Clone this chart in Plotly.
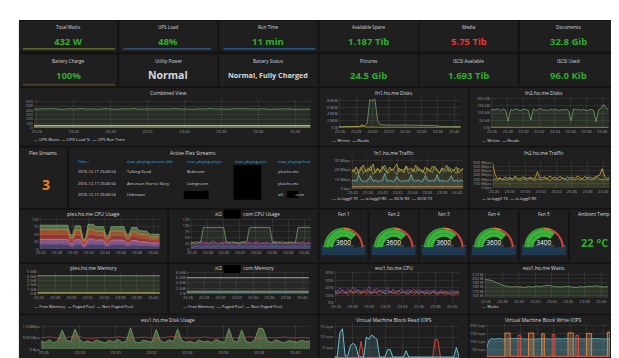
import plotly.graph_objects as go
import pandas as pd

# ---------------- data ----------------
stat_titles_row1 = ["Total Watts", "UPS Load", "Run Time", "Available Space", "Media", "Documents"]
stat_values_row1 = ["432 W", "48%", "11 min", "1.187 Tib", "5.75 Tib", "32.8 Gib"]
stat_kinds_row1 = ["good", "good", "good", "good", "bad", "good"]
stat_titles_row2 = ["Battery Charge", "Utility Power", "Battery Status", "Pictures", "iSCSI Available", "iSCSI Used"]
stat_values_row2 = ["100%", "Normal", "Normal, Fully Charged", "24.5 Gib", "1.693 Tib", "96.0 Kib"]
stat_kinds_row2 = ["good", "text", "text_small", "good", "good", "good"]

spark_total_watts = [430, 436, 428, 441, 433, 425, 438, 430, 444, 429, 435, 431]
spark_ups_load = [48, 48, 49, 48, 47, 48, 48, 49, 48, 48, 47, 48]
spark_run_time = [11, 11, 11, 11, 11, 11, 11, 11, 11, 11, 11, 11]
spark_battery = [100, 100, 100, 100, 100, 100, 100, 100, 100, 100, 100, 100]

ups_watts = [430, 436, 428, 441, 433, 425, 438, 430, 444, 429, 435, 427, 440, 432, 426, 437,
             431, 445, 428, 434, 430, 439, 426, 433, 441, 429, 436, 424, 438, 431, 447, 430,
             435, 428, 440, 433, 427, 436, 431, 439, 425, 434, 430, 437, 428, 433, 440, 431]
ups_load = [48, 48, 49, 48, 47, 48, 48, 49, 48, 48, 47, 48, 48, 49, 48, 48,
            48, 47, 48, 49, 48, 48, 48, 47, 48, 48, 49, 48, 48, 47, 48, 48]
ups_runtime = [11, 11, 11, 11, 11, 11, 11, 11, 11, 11, 11, 11, 11, 11, 11, 11,
               11, 11, 11, 11, 11, 11, 11, 11, 11, 11, 11, 11, 11, 11, 11, 11]

vs1_writes = [0.3, 0.3, 0.4, 0.3, 0.3, 0.5, 0.4, 0.3, 0.4, 0.3, 0.6, 1.2, 8.2, 7.9, 8.4, 2.1,
              0.9, 0.8, 0.8, 0.7, 0.8, 0.7, 0.8, 0.7, 0.8, 0.8, 0.7, 0.8, 0.7, 0.8, 0.7, 0.7,
              0.8, 0.7, 0.8, 0.7, 0.8, 0.6, 0.5, 0.3, 0.3, 0.4, 0.3, 0.3, 0.4, 0.3, 0.3, 0.3]
vs1_reads = [0.1, 0.1, 0.2, 0.1, 0.1, 0.1, 0.2, 0.1, 0.3, 0.9, 0.3, 0.1, 0.2, 0.3, 0.2, 0.1,
             0.1, 0.2, 0.1, 0.1, 0.1, 0.2, 0.1, 0.1, 0.1, 0.1, 0.2, 0.1, 0.1, 0.1, 0.1, 0.2,
             0.1, 0.1, 0.1, 0.1, 0.1, 0.2, 0.1, 0.1, 0.1, 0.1, 0.2, 0.1, 0.1, 0.1, 0.1, 0.1]
vs2_writes = [118, 125, 122, 130, 115, 127, 120, 45, 124, 119, 128, 121, 117, 126, 123, 120,
              50, 129, 116, 124, 131, 119, 122, 118, 127, 121, 125, 117, 123, 120, 126, 118,
              48, 129, 122, 124, 119, 127, 116, 121, 125, 118, 40, 123, 135, 158, 130, 126]
vs2_reads = [3, 2, 3, 2, 2, 3, 2, 2, 3, 2, 3, 2, 2, 3, 2, 2, 3, 2, 2, 3, 2, 2, 3, 2, 3, 2, 2, 3, 2, 2, 3, 2]

vs1_lagg_tx = [17, 21, 15, 19, 23, 16, 20, 18, 24, 15, 19, 22, 17, 20, 25, 16, 18, 21, 19, 15,
               22, 18, 20, 24, 16, 19, 21, 17, 23, 18, 20, 15, 22, 19, 17, 24, 20, 16, 21, 18,
               19, 23, 17, 20, 16, 22, 19, 21]
vs1_lagg_rx = [20, 18, 23, 16, 21, 25, 18, 22, 19, 26, 17, 21, 18, 24, 20, 17, 23, 19, 22, 26,
               18, 21, 17, 24, 20, 22, 18, 25, 19, 21, 17, 23, 20, 18, 24, 21, 19, 17, 22, 20,
               25, 18, 21, 19, 23, 17, 20, 22]
vs1_iscsi_rx = [8, 9, 8, 15, 9, 8, 8, 9, 14, 8, 9, 8, 8, 9, 16, 8, 9, 8, 8, 13, 9, 8, 8, 9,
                8, 15, 9, 8, 9, 8, 8, 14, 9, 8, 9, 8, 15, 8, 9, 8, 8, 9, 14, 8, 9, 8, 9, 8]
vs1_iscsi_tx = [2.4, 2.5, 2.4, 2.6, 2.5, 2.4, 2.5, 2.5, 2.4, 2.6, 2.5, 2.4, 2.5, 2.4, 2.5, 2.6,
                2.4, 2.5, 2.5, 2.4, 2.5, 2.6, 2.4, 2.5, 2.4, 2.5, 2.5, 2.4, 2.6, 2.5, 2.4, 2.5]

vs2_lagg_tx = [180, 210, 170, 230, 190, 200, 175, 220, 185, 240, 195, 170, 205, 215, 180, 230,
               190, 175, 210, 200, 185, 225, 195, 170, 215, 190, 205, 180, 235, 195, 175, 210,
               200, 185, 220, 190, 205, 175, 230, 195, 185, 210, 250, 200, 190, 215, 180, 205]
vs2_lagg_rx = [560, 320, 210, 240, 190, 260, 220, 250, 200, 280, 230, 210, 260, 240, 220, 250,
               230, 210, 380, 230, 240, 260, 210, 280, 230, 250, 220, 270, 240, 210, 260, 230,
               250, 220, 280, 240, 210, 270, 230, 260, 220, 250, 270, 300, 450, 270, 220, 250]

table_headers = ["Time ↓", "now_playing.stream_title", "now_playing.player", "now_playing.user", "now_playing.host"]
table_time = ["2016-12-17 23:40:54", "2016-12-17 23:40:54", "2016-12-17 23:40:54"]
table_title = ["Talking Dead", "American Horror Story", "Unknown"]
table_player = ["Bedroom", "Livingroom", ""]
table_user = ["", "", ""]
table_host = ["plex.ho.me", "plex.ho.me", "xl2\u00a0\u00a0\u00a0\u00a0\u00a0\u00a0\u00a0\u00a0\u00a0\u00a0\u00a0.com"]
plex_streams = "3"

plex_cpu_1 = [17, 16, 17, 18, 16, 17, 16, 18, 17, 16, 17, 16, 10, 9, 16, 17, 16, 7, 8, 17,
              18, 17, 15, 16, 15, 16, 9, 10, 15, 16, 15, 16, 15, 16, 10, 11, 15, 14, 15, 13,
              12, 13, 12, 11, 10, 11, 10, 10]
plex_cpu_2 = [16, 17, 16, 15, 17, 16, 17, 16, 15, 17, 16, 17, 10, 10, 16, 15, 16, 7, 7, 16,
              17, 16, 15, 15, 16, 15, 9, 9, 15, 15, 16, 15, 15, 14, 10, 10, 14, 15, 14, 12,
              13, 12, 12, 10, 10, 10, 11, 10]
plex_cpu_3 = [16, 15, 17, 16, 16, 15, 16, 17, 16, 15, 16, 16, 9, 10, 15, 16, 16, 7, 7, 17,
              16, 17, 15, 15, 15, 14, 9, 9, 15, 15, 14, 15, 16, 15, 10, 10, 15, 14, 14, 12,
              12, 13, 12, 10, 10, 10, 10, 10]
plex_cpu_4 = [16, 16, 15, 16, 17, 16, 15, 16, 16, 17, 15, 16, 10, 9, 16, 15, 15, 7, 7, 16,
              16, 17, 15, 15, 14, 15, 9, 9, 15, 15, 15, 15, 14, 15, 10, 9, 14, 15, 14, 13,
              12, 12, 12, 10, 10, 10, 10, 10]
plex_cpu_5 = [15, 16, 15, 16, 15, 16, 17, 15, 16, 15, 16, 15, 9, 10, 15, 16, 15, 7, 6, 17,
              16, 16, 15, 14, 15, 15, 9, 8, 15, 14, 15, 15, 15, 15, 10, 10, 14, 14, 15, 12,
              13, 12, 12, 9, 10, 9, 9, 10]

xl2_cpu_green = [30, 28, 32, 29, 31, 92, 93, 92, 94, 93, 92, 93, 94, 92, 31, 28, 33, 29, 30, 27,
                 31, 29, 32, 91, 93, 92, 94, 92, 93, 91, 92, 93, 30, 28, 31, 29, 32, 27, 30, 28,
                 31, 29, 92, 93, 94, 92, 93, 92]
xl2_cpu_purple = [25, 30, 22, 28, 34, 26, 31, 24, 29, 35, 27, 23, 30, 26, 33, 28, 24, 31, 27, 22,
                  29, 34, 26, 30, 25, 28, 33, 24, 29, 27, 31, 23, 28, 35, 26, 30, 24, 29, 27, 32,
                  25, 28, 30, 26, 33, 24, 29, 27]
xl2_cpu_blue = [12, 9, 11, 14, 10, 8, 13, 11, 9, 12, 10, 15, 11, 9, 12, 10, 13, 8, 11, 14,
                10, 12, 9, 11, 13, 10, 8, 12, 11, 14, 9, 12, 10, 11, 13, 9, 12, 10, 8, 11,
                14, 10, 12, 9, 11, 13, 10, 12]

fan_names = ["Fan 1", "Fan 2", "Fan 3", "Fan 4", "Fan 5"]
fan_rpm = [3600, 3600, 3600, 3600, 3400]
fan_max = 4800
fan_thresholds = [(0, 2400, "#3aa13a"), (2400, 3000, "#e5832f"), (3000, 4800, "#c9463d")]
fan_sparks = [[3600, 3600, 3600, 3600, 3600, 3600, 3600, 3600, 3600, 3600, 3600, 3600],
              [3600, 3600, 3600, 3600, 3600, 3600, 3600, 3600, 3600, 3600, 3600, 3600],
              [3600, 3600, 3600, 3600, 3600, 3600, 3600, 3600, 3600, 3600, 3600, 3600],
              [3600, 3600, 3600, 3600, 3600, 3600, 3600, 3600, 3600, 3600, 3600, 3600],
              [3400, 3400, 3400, 3400, 3400, 3400, 3400, 3400, 3400, 3400, 3400, 3400]]
ambient_temp = "22 °C"

plex_mem_free = [4.15, 4.16, 4.14, 4.15, 4.17, 4.16, 4.15, 4.13, 4.14, 4.16, 4.15, 4.15, 4.14, 4.12, 4.13, 4.15,
                 4.16, 4.14, 4.15, 4.13, 4.16, 4.15, 4.14, 4.16, 4.15, 4.13, 4.14, 4.16, 4.15, 4.14, 4.16, 4.15]
plex_mem_paged = [0.25, 0.25, 0.26, 0.25, 0.25, 0.25, 0.26, 0.25, 0.25, 0.26, 0.25, 0.25, 0.25, 0.26, 0.25, 0.25,
                  0.25, 0.26, 0.25, 0.25, 0.26, 0.25, 0.25, 0.25, 0.26, 0.25, 0.25, 0.25, 0.26, 0.25, 0.25, 0.25]
plex_mem_nonpaged = [0.12, 0.12, 0.12, 0.13, 0.12, 0.12, 0.12, 0.12, 0.13, 0.12, 0.12, 0.12, 0.12, 0.12, 0.13, 0.12,
                     0.12, 0.12, 0.12, 0.13, 0.12, 0.12, 0.12, 0.12, 0.12, 0.13, 0.12, 0.12, 0.12, 0.12, 0.13, 0.12]
xl2_mem_free = [5.92, 5.91, 5.92, 5.93, 5.92, 5.91, 5.92, 5.92, 5.93, 5.92, 5.91, 5.92, 5.92, 5.91, 5.93, 5.92,
                5.92, 5.91, 5.92, 5.93, 5.92, 5.91, 5.92, 5.92, 5.91, 5.93, 5.92, 5.92, 5.91, 5.92, 5.92, 5.93]
xl2_mem_paged = [0.92, 0.92, 0.93, 0.92, 0.92, 0.92, 0.93, 0.92, 0.92, 0.92, 0.93, 0.92, 0.92, 0.92, 0.92, 0.93,
                 0.92, 0.92, 0.92, 0.93, 0.92, 0.92, 0.92, 0.92, 0.93, 0.92, 0.92, 0.92, 0.92, 0.93, 0.92, 0.92]
xl2_mem_nonpaged = [0.35, 0.35, 0.35, 0.36, 0.35, 0.35, 0.35, 0.35, 0.36, 0.35, 0.35, 0.35, 0.35, 0.35, 0.36, 0.35,
                    0.35, 0.35, 0.35, 0.36, 0.35, 0.35, 0.35, 0.35, 0.35, 0.36, 0.35, 0.35, 0.35, 0.35, 0.36, 0.35]

esx_cpu_a = [35, 28, 40, 32, 26, 38, 30, 42, 27, 34, 29, 37, 31, 44, 26, 33, 39, 28, 35, 30,
             41, 27, 36, 32, 29, 38, 33, 26, 35, 30, 37, 28, 34, 31, 27, 36, 29, 33, 30, 26,
             34, 28, 32, 29, 35, 27, 31, 30]
esx_cpu_b = [28, 33, 25, 36, 30, 27, 34, 29, 38, 26, 32, 28, 35, 30, 27, 37, 29, 33, 26, 34,
             31, 28, 36, 27, 33, 30, 25, 34, 29, 32, 27, 35, 30, 26, 33, 28, 31, 27, 34, 29,
             26, 32, 28, 30, 27, 33, 29, 28]
esx_cpu_c = [22, 26, 30, 24, 28, 21, 27, 25, 31, 23, 26, 29, 22, 27, 24, 30, 25, 21, 28, 26,
             23, 29, 24, 27, 22, 26, 30, 23, 25, 28, 21, 27, 24, 29, 22, 26, 23, 28, 25, 21,
             27, 24, 22, 26, 23, 20, 25, 22]
esx_cpu_d = [30, 24, 27, 33, 25, 29, 31, 26, 28, 35, 24, 30, 27, 32, 25, 29, 26, 34, 28, 24,
             31, 27, 29, 25, 33, 26, 30, 28, 24, 32, 27, 29, 25, 31, 26, 28, 24, 30, 27, 25,
             29, 26, 28, 24, 27, 25, 28, 26]
esx_watts = [198, 197, 195, 190, 186, 183, 181, 180, 181, 180, 179, 181, 180, 182, 181, 183,
             184, 182, 181, 180, 181, 182, 180, 179, 181, 180, 182, 181, 183, 181, 180, 181]

disk_read = [0.35, 0.3, 0.42, 0.28, 0.38, 0.85, 0.4, 0.33, 0.9, 0.45, 0.3, 0.37, 0.29, 0.41, 0.34, 0.27,
             0.39, 0.32, 0.44, 0.3, 0.36, 0.95, 0.33, 0.28, 0.4, 0.35, 0.31, 0.88, 0.37, 0.29, 0.42, 0.33,
             0.9, 0.38, 0.3, 0.35, 0.27, 0.41, 0.32, 0.36, 0.29, 0.43, 0.34, 0.3, 0.92, 0.37, 0.31, 0.86,
             0.35, 0.28, 0.4, 0.94, 0.9, 0.36, 0.3, 0.42, 0.33, 0.29, 0.38, 0.35, 0.31, 0.4, 0.34, 0.37]
disk_write = [0.5, 0.55, 0.48, 0.52, 0.6, 0.5, 0.47, 0.53, 0.5, 0.56, 0.49, 0.51, 0.54, 0.48, 0.5, 0.57,
              0.52, 0.49, 0.5, 0.55, 0.47, 0.53, 0.5, 0.51, 0.56, 0.48, 0.52, 0.5, 0.54, 0.49, 0.51, 0.5]

vm_read_a = [0.5, 0.5, 12, 14, 1, 1, 6, 7, 6, 1, 0.5, 0.5, 10, 9, 11, 10, 9, 0.5, 0.5, 0.5,
             4, 4, 0.5, 0.5, 0.5, 0.5, 0.5, 3.5, 0.5, 0.5, 0.5, 0.5, 0.5, 0.5, 0.5, 0.5, 0.5, 0.5,
             0.5, 0.5, 0.5, 0.5, 0.5, 0.5, 0.5, 0.5, 5, 0.5]
vm_read_b = [0.2, 0.2, 0.2, 0.2, 0.2, 0.2, 0.2, 0.2, 0.2, 0.2, 8, 0.2, 0.2, 0.2, 0.2, 0.2,
             0.2, 0.2, 0.2, 0.2, 0.2, 0.2, 0.2, 0.2, 0.2, 0.2, 0.2, 0.2, 0.2, 0.2, 0.2, 0.2,
             0.2, 0.2, 0.2, 0.2, 0.2, 0.2, 9, 8.5, 0.2, 0.2, 0.2, 0.2, 0.2, 0.2, 0.2, 0.2]
vm_read_c = [0.3, 0.3, 0.3, 0.3, 0.3, 0.3, 0.3, 0.3, 0.3, 0.3, 0.3, 0.3, 0.3, 0.3, 0.3, 0.3,
             0.3, 0.3, 0.3, 0.3, 0.3, 0.3, 0.3, 0.3, 0.3, 0.3, 0.3, 0.3, 0.3, 0.3, 0.3, 0.3]
vm_write_a = [60, 110, 119, 116, 118, 120, 117, 115, 118, 119, 116, 117, 118, 120, 117, 116,
              119, 118, 115, 117, 118, 119, 116, 118, 117, 115, 119, 118, 116, 117, 120, 118,
              116, 117, 119, 118, 115, 117, 118, 116, 119, 117, 118, 120, 116, 117, 118, 119]
vm_write_b = [2, 2, 2, 2, 2, 2, 2, 155, 155, 2, 2, 2, 2, 2, 2, 2, 155, 155, 2, 2, 2, 150, 2, 2,
              2, 2, 2, 2, 2, 2, 2, 155, 155, 2, 2, 2, 2, 2, 152, 152, 2, 2, 2, 2, 2, 2, 160, 2]
vm_write_c = [1, 1, 1, 1, 1, 1, 1, 1, 1, 1, 1, 1, 140, 1, 1, 1, 1, 1, 1, 1, 1, 1, 1, 1,
              1, 145, 1, 1, 1, 1, 1, 1, 1, 1, 140, 1, 1, 1, 1, 1, 1, 1, 1, 1, 1, 1, 1, 1]

T0, T1 = "2016-12-17 23:25:50", "2016-12-17 23:40:50"
TIME_TICKS = pd.date_range("2016-12-17 23:26", "2016-12-17 23:40", freq="2min")

# ---------------- style ----------------
W, H = 619, 358
BG = "#141414"
PANEL = "#1f1f20"
TXT = "#d8d9da"
TICK = "#9a9a9a"
GRID = "rgba(255,255,255,0.07)"
FONT = "Open Sans"
V_GREEN = "#32ac2d"
V_RED = "#e5383b"
V_ORANGE = "#ed8128"
G, Y, LB, O, R, B, P, PU = "#7eb26d", "#eab839", "#6ed0e0", "#ef843c", "#e24d42", "#1f78c1", "#ba43a9", "#705da0"
GAUGE_G = "#3bb33b"


def rgba(h, a):
    h = h.lstrip('#')
    return "rgba(%d,%d,%d,%.2f)" % (int(h[0:2], 16), int(h[2:4], 16), int(h[4:6], 16), a)


U = (610 - 7 + 2) / 12.0


def col(c0, span):
    return 7 + c0 * U, 7 + (c0 + span) * U - 2


def times(n):
    return pd.date_range(T0, T1, periods=n)


fig = go.Figure()
layout_axes = {}
shapes = []
anns = []
axis_count = [0]


def rect(x0, y0, x1, y1, color, layer='below'):
    shapes.append(dict(type='rect', xref='paper', yref='paper', x0=x0 / W, x1=x1 / W,
                       y0=1 - y1 / H, y1=1 - y0 / H, fillcolor=color, line=dict(width=0), layer=layer))


def ann(x, y, text, size=5, color=TXT, xanchor='center', bold=False):
    anns.append(dict(x=x / W, y=1 - y / H, xref='paper', yref='paper',
                     text=('<b>%s</b>' % text) if bold else text, showarrow=False,
                     xanchor=xanchor, yanchor='middle', borderpad=0,
                     font=dict(size=size, color=color, family=FONT)))


def new_axes(x0, x1, ytop, ybot, xkw, ykw):
    axis_count[0] += 1
    n = axis_count[0]
    sx = '' if n == 1 else str(n)
    layout_axes['xaxis' + sx] = dict(domain=[x0 / W, x1 / W], anchor='y' + sx, **xkw)
    layout_axes['yaxis' + sx] = dict(domain=[1 - ybot / H, 1 - ytop / H], anchor='x' + sx, **ykw)
    return 'x' + sx, 'y' + sx


def graph(p26, p40, ytop, ybot, yrange, tickvals, ticktext, showx=True):
    s = (p40 - p26) / 14.0
    xl = p26 - s / 6.0
    xr = p40 + s * 5.0 / 6.0
    xkw = dict(type='date', range=[T0, T1], tickvals=TIME_TICKS, tickformat='%H:%M',
               showticklabels=showx, tickfont=dict(size=4, color=TICK, family=FONT),
               showgrid=True, gridcolor=GRID, gridwidth=0.5, zeroline=False, showline=False,
               ticks='', fixedrange=True)
    ykw = dict(range=yrange, tickvals=tickvals, ticktext=ticktext,
               tickfont=dict(size=4, color=TICK, family=FONT), showgrid=True, gridcolor=GRID,
               gridwidth=0.5, zeroline=False, showline=False, ticks='', fixedrange=True)
    return new_axes(xl, xr, ytop, ybot, xkw, ykw)


def line(axes, vals, color, fill_alpha=None, width=0.7, shape='linear', stack=None):
    xa, ya = axes
    kw = dict(x=times(len(vals)), y=vals, xaxis=xa, yaxis=ya, mode='lines',
              line=dict(color=color, width=width, shape=shape), hoverinfo='skip', showlegend=False)
    if stack:
        kw['stackgroup'] = stack
        kw['fillcolor'] = rgba(color, fill_alpha)
    elif fill_alpha is not None:
        kw['fill'] = 'tozeroy'
        kw['fillcolor'] = rgba(color, fill_alpha)
    fig.add_trace(go.Scatter(**kw))


def spark(x0, x1, ytop, ybot, vals, color, alpha):
    xkw = dict(type='date', range=[T0, T1], visible=False, fixedrange=True)
    ykw = dict(range=[0, max(vals) * 1.02], visible=False, fixedrange=True)
    xa, ya = new_axes(x0, x1, ytop, ybot, xkw, ykw)
    fig.add_trace(go.Scatter(x=times(len(vals)), y=vals, xaxis=xa, yaxis=ya, mode='lines',
                             line=dict(color=color, width=0.8), fill='tozeroy',
                             fillcolor=rgba(color, alpha), hoverinfo='skip', showlegend=False))


def legend(x, y, items):
    parts = ['<span style="color:%s"><b>—</b></span> %s' % (c, n) for n, c in items]
    ann(x, y, '\u00a0\u00a0'.join(parts), size=4.2, color=TXT, xanchor='left')


# ---------------- background ----------------
rect(7, 10, 617, 352, BG)
rect(612.5, 23, 615.5, 352, "#2e2e2e")

ROW1, ROW2, ROW3, ROW4, ROW5, ROW6, ROW7 = (11, 42), (45, 77), (79, 137), (139, 200), (202, 255), (257, 307), (309, 352)


def panel(c0, span, row):
    x0, x1 = col(c0, span)
    rect(x0, row[0], x1, row[1], PANEL)
    return x0, x1


# ---------------- stat panels ----------------
value_colors = {"good": V_GREEN, "bad": V_RED}
for i in range(6):
    for row, titles, values, kinds, ty, vy in [(ROW1, stat_titles_row1, stat_values_row1, stat_kinds_row1, 17, 32),
                                               (ROW2, stat_titles_row2, stat_values_row2, stat_kinds_row2, 52, 66)]:
        x0, x1 = panel(2 * i, 2, row)
        cx = (x0 + x1) / 2
        ann(cx, ty, titles[i], size=4.6, color=TXT)
        k = kinds[i]
        if k == "text":
            ann(cx, vy, values[i], size=10.5, color=TXT, bold=True)
        elif k == "text_small":
            ann(cx, vy, values[i], size=7.2, color=TXT, bold=True)
        else:
            ann(cx, vy, values[i], size=9.5, color=value_colors[k], bold=True)

x0, x1 = col(0, 2)
spark(x0 + 4, x1 - 2, 38.5, 41, spark_total_watts, "#7d8c3a", 0.35)
x0, x1 = col(2, 2)
spark(x0 + 4, x1 - 6, 38.5, 41, spark_ups_load, "#3d6a95", 0.35)
x0, x1 = col(4, 2)
spark(x0 + 4, x1 - 2, 38.5, 41, spark_run_time, "#2f70b0", 0.35)
x0, x1 = col(0, 2)
spark(x0 + 4, x1 - 2, 74.5, 77, spark_battery, "#7a6535", 0.35)

# ---------------- row 3 ----------------
x0, x1 = panel(0, 6, ROW3)
ann((x0 + x1) / 2, 84, "Combined View")
ax = graph(25, 285, 91, 119, [0, 640], [0, 100, 200, 300, 400, 500, 600],
           ["0", "100", "200", "300", "400", "500", "600"])
line(ax, ups_watts, G, 0.1)
line(ax, ups_load, Y, 0.35, width=1)
line(ax, ups_runtime, LB, 0.1)
legend(21, 131, [("UPS Watts", G), ("UPS Load %", Y), ("UPS Run Time", LB)])

x0, x1 = panel(6, 3, ROW3)
ann((x0 + x1) / 2, 84, "fn1.ho.me Disks")
ax = graph(330, 445, 88, 119, [0, 9], [0, 2, 4, 6, 8], ["0 B", "2 MiB", "4 MiB", "6 MiB", "8 MiB"])
line(ax, vs1_writes, G, 0.1)
line(ax, vs1_reads, Y, 0.1)
legend(321, 132, [("Writes", G), ("Reads", Y)])

x0, x1 = panel(9, 3, ROW3)
ann((x0 + x1) / 2, 84, "fn2.ho.me Disks")
ax = graph(483, 594, 88, 119, [0, 210], [0, 50, 100, 150, 200], ["0 B", "50 kB", "100 kB", "150 kB", "200 kB"])
line(ax, vs2_writes, G, 0.12)
line(ax, vs2_reads, Y, 0.3)
legend(472, 132, [("Writes", G), ("Reads", Y)])

# ---------------- row 4 ----------------
x0, x1 = panel(0, 1, ROW4)
ann((x0 + x1) / 2, 145, "Plex Streams", size=4.6)
ann((x0 + x1) / 2 + 3, 176, plex_streams, size=14, color=V_ORANGE, bold=True)

x0, x1 = panel(1, 5, ROW4)
ann((x0 + x1) / 2, 145, "Active Plex Streams")
col_x = [65, 115, 175, 223, 267]
columns = [table_time, table_title, table_player, table_user, table_host]
for j, h in enumerate(table_headers):
    ann(col_x[j], 153, h, size=4, color="#33b5e5", xanchor='left')
    for r_i, v in enumerate(columns[j]):
        if v:
            ann(col_x[j], 163 + 12 * r_i, v, size=4, color=TXT, xanchor='left')
rect(223, 157, 251, 192, "#000000", layer='above')
rect(173, 183, 198, 191, "#000000", layer='above')
rect(277, 183, 288, 190, "#000000", layer='above')

x0, x1 = panel(6, 3, ROW4)
ann((x0 + x1) / 2, 145, "fn1.ho.me Traffic")
ax = graph(343, 448, 150, 181, [0, 32], [0, 10, 20, 30], ["0 bps", "10 Mbps", "20 Mbps", "30 Mbps"])
line(ax, vs1_iscsi_tx, O, 0.1)
line(ax, vs1_iscsi_rx, LB, 0.15)
line(ax, vs1_lagg_tx, G, 0.08)
line(ax, vs1_lagg_rx, Y, 0.08)
legend(321, 191, [("ix-lagg0 TX", G), ("ix-lagg0 RX", Y), ("iSCSI RX", LB), ("iSCSI TX", O)])

x0, x1 = panel(9, 3, ROW4)
ann((x0 + x1) / 2, 145, "fn2.ho.me Traffic")
ax = graph(485, 595, 153, 180, [0, 620], [0, 100, 200, 300, 400, 500, 600],
           ["0 bps", "100 Mbps", "200 Mbps", "300 Mbps", "400 Mbps", "500 Mbps", "600 Mbps"])
line(ax, vs2_lagg_tx, G, 0.1)
line(ax, vs2_lagg_rx, Y, 0.1)
legend(472, 191, [("ix-lagg0 TX", G), ("ix-lagg0 RX", Y)])

# ---------------- row 5 ----------------
x0, x1 = panel(0, 3, ROW5)
ann((x0 + x1) / 2, 206, "plex.ho.me CPU Usage")
ax = graph(29, 142, 210, 242, [0, 105], [0, 25, 50, 75, 100], ["0", "25", "50", "75", "100"])
for vals, c in [(plex_cpu_1, PU), (plex_cpu_2, "#d683ce"), (plex_cpu_3, R), (plex_cpu_4, O), (plex_cpu_5, G)]:
    line(ax, vals, c, 0.55, stack='cpu')

x0, x1 = panel(3, 3, ROW5)
ann(212, 206, "xl2", xanchor='right')
ann(231, 206, "com CPU Usage", xanchor='left')
rect(213, 202, 230, 211, "#000000", layer='above')
ax = graph(181, 294, 211, 242, [0, 130], [0, 25, 50, 75, 100, 125], ["0", "25", "50", "75", "100", "125"])
line(ax, xl2_cpu_purple, P, 0.35)
line(ax, xl2_cpu_blue, B, 0.1)
line(ax, xl2_cpu_green, G, 0.1)

for i in range(5):
    x0, x1 = panel(6 + i, 1, ROW5)
    cx = (x0 + x1) / 2
    ann(cx, 206, fan_names[i], size=4.6)
    spark(x0 + 2, x1 - 2, 238, 248, fan_sparks[i], "#1f78c1", 0.3)
    cy = 240
    for rad, kind in [(20, 'ring'), (18, 'mid'), (14, 'inner')]:
        dom = dict(x=[(cx - rad) / W, (cx + rad) / W], y=[1 - cy / H, 1 - (cy - rad) / H])
        axis = dict(range=[0, fan_max], visible=False)
        if kind == 'ring':
            gauge = dict(shape='angular', axis=axis, bar=dict(color='rgba(0,0,0,0)', thickness=0),
                         bgcolor='rgba(0,0,0,0)', borderwidth=0,
                         steps=[dict(range=[a, b], color=c, thickness=1) for a, b, c in fan_thresholds])
        else:
            gauge = dict(shape='angular', axis=axis, bar=dict(color=GAUGE_G, thickness=1),
                         bgcolor=PANEL, borderwidth=0)
        fig.add_trace(go.Indicator(mode='gauge+number' if kind == 'inner' else 'gauge',
                                   value=fan_rpm[i], domain=dom, gauge=gauge,
                                   number=dict(font=dict(size=6.5, color="#ffffff", family=FONT),
                                               valueformat='d')))

x0, x1 = panel(11, 1, ROW5)
ann((x0 + x1) / 2, 206, "Ambient Temp", size=4.6)
ann((x0 + x1) / 2, 235, ambient_temp, size=11, color=V_GREEN, bold=True)

# ---------------- row 6 ----------------
x0, x1 = panel(0, 3, ROW6)
ann((x0 + x1) / 2, 261, "plex.ho.me Memory")
ax = graph(27, 142, 264, 287, [0, 5.2], [0, 1, 2, 3, 4, 5], ["0 B", "1 GiB", "2 GiB", "3 GiB", "4 GiB", "5 GiB"])
line(ax, plex_mem_free, G, 0.15)
line(ax, plex_mem_paged, Y, 0.1)
line(ax, plex_mem_nonpaged, LB, 0.1)
legend(21, 300, [("Free Memory", G), ("Paged Pool", Y), ("Non Paged Pool", LB)])

x0, x1 = panel(3, 3, ROW6)
ann(212, 261, "xl2", xanchor='right')
ann(231, 261, "com Memory", xanchor='left')
rect(213, 258, 230, 266, "#000000", layer='above')
ax = graph(177, 292, 264, 287, [0, 8.4], [0, 2, 4, 6, 8], ["0 B", "2 GiB", "4 GiB", "6 GiB", "8 GiB"])
line(ax, xl2_mem_free, "#c9dfb8", 0.05)
line(ax, xl2_mem_paged, Y, 0.1)
line(ax, xl2_mem_nonpaged, LB, 0.1)
legend(171, 300, [("Free Memory", G), ("Paged Pool", Y), ("Non Paged Pool", LB)])

x0, x1 = panel(6, 3, ROW6)
ann((x0 + x1) / 2, 261, "esx1.ho.me CPU")
ax = graph(326, 443, 264, 296, [0, 85], [0, 20, 40, 60, 80], ["0%", "20%", "40%", "60%", "80%"])
line(ax, esx_cpu_c, R, width=0.6)
line(ax, esx_cpu_d, O, width=0.6)
line(ax, esx_cpu_b, B, width=0.6)
line(ax, esx_cpu_a, P, width=0.6)

x0, x1 = panel(9, 3, ROW6)
ann((x0 + x1) / 2, 261, "esx1.ho.me Watts")
ax = graph(477, 593, 265, 291, [155, 215], [160, 170, 180, 190, 200, 210],
           ["160 W", "170 W", "180 W", "190 W", "200 W", "210 W"])
line(ax, esx_watts, G, 0.15)
legend(472, 300, [("Watts", G)])

# ---------------- row 7 ----------------
x0, x1 = panel(0, 6, ROW7)
ann((x0 + x1) / 2, 314, "esx1.ho.me Disk Usage")
ax = graph(32, 285, 318, 343, [0, 1.1], [0, 0.5, 1.0], ["0 Bps", "500 kBps", "1.0 MBps"])
line(ax, disk_read, G, 0.45)
line(ax, disk_write, R, width=0.5)

x0, x1 = panel(6, 3, ROW7)
ann((x0 + x1) / 2, 314, "Virtual Machine Block Read IOPS")
ax = graph(326, 443, 317, 352, [0, 16.5], [5, 10, 15], ["5 iops", "10 iops", "15 iops"], showx=False)
line(ax, vm_read_c, P, 0.1)
line(ax, vm_read_b, R, 0.1, width=0.9)
line(ax, vm_read_a, LB, 0.15, width=0.9)

x0, x1 = panel(9, 3, ROW7)
ann((x0 + x1) / 2, 314, "Virtual Machine Block Write IOPS")
ax = graph(479, 595, 318, 351, [0, 210], [50, 100, 150, 200],
           ["50 iops", "100 iops", "150 iops", "200 iops"], showx=False)
line(ax, vm_write_a, LB, 0.3)
line(ax, vm_write_b, O, 0.25, width=0.9, shape='hv')
line(ax, vm_write_c, R, 0.2, width=0.9, shape='hv')

fig.update_layout(width=W, height=H, autosize=False, margin=dict(l=0, r=0, t=0, b=0),
                  paper_bgcolor="#ffffff", plot_bgcolor="rgba(0,0,0,0)",
                  font=dict(family=FONT, color=TXT), showlegend=False,
                  shapes=shapes, annotations=anns, **layout_axes)

fig.write_html("out.html", config={"displayModeBar": False})
